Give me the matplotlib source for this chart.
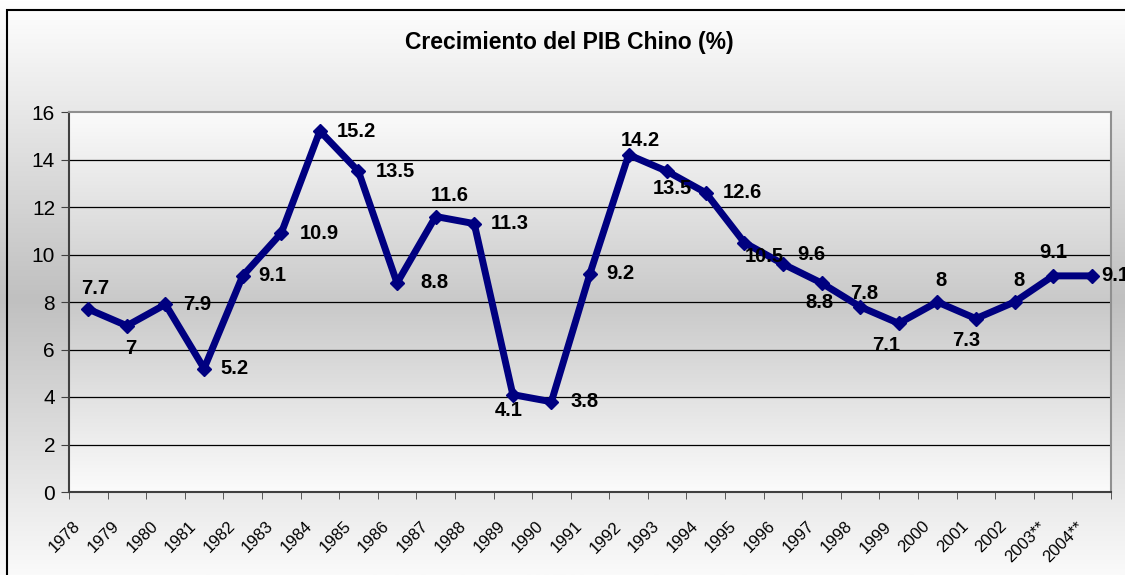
import numpy as np
import matplotlib.pyplot as plt
from matplotlib.colors import LinearSegmentedColormap
from matplotlib.patches import Rectangle
from matplotlib.transforms import ScaledTranslation

plt.rcParams['font.family'] = ['Liberation Sans', 'DejaVu Sans']

# data
years = ["1978", "1979", "1980", "1981", "1982", "1983", "1984", "1985", "1986",
         "1987", "1988", "1989", "1990", "1991", "1992", "1993", "1994", "1995",
         "1996", "1997", "1998", "1999", "2000", "2001", "2002", "2003**", "2004**"]
growth = [7.7, 7, 7.9, 5.2, 9.1, 10.9, 15.2, 13.5, 8.8, 11.6, 11.3, 4.1, 3.8, 9.2,
          14.2, 13.5, 12.6, 10.5, 9.6, 8.8, 7.8, 7.1, 8, 7.3, 8, 9.1, 9.1]
labels = ["7.7", "7", "7.9", "5.2", "9.1", "10.9", "15.2", "13.5", "8.8", "11.6",
          "11.3", "4.1", "3.8", "9.2", "14.2", "13.5", "12.6", "10.5", "9.6", "8.8",
          "7.8", "7.1", "8", "7.3", "8", "9.1", "9.1"]

# label offsets in pixels (dx, dy up)
offsets = [(7, 21), (4, -23), (32, 0), (30, 0), (30, 0), (38, 0), (37, 0), (37, 0),
           (37, 0), (14, 21), (36, 0), (-4, -16), (33, 0), (30, 0), (12, 14),
           (5, -17), (37, 0), (20, -14), (28, 9), (-2, -19), (4, 13), (-13, -22),
           (4, 21), (-10, -22), (4, 21), (0, 23), (24, 0)]

W, H = 1125, 575
fig = plt.figure(figsize=(W / 100, H / 100), dpi=100)

# chart area background gradient
bg = fig.add_axes([0, 0, 1, 1], zorder=-10)
cmap_bg = LinearSegmentedColormap.from_list(
    "bg", [(0, "#ffffff"), (0.52, "#c0c0c0"), (1, "#fafafa")])
grad = np.linspace(0, 1, 256).reshape(-1, 1)
bg.imshow(grad, cmap=cmap_bg, aspect="auto", extent=[0, 1, 0, 1], origin="upper")
bg.add_patch(Rectangle((7 / W, -0.1), 1.2, 1.1 - 10 / H, fill=False,
                       edgecolor="black", linewidth=1.5))
bg.set_xlim(0, 1)
bg.set_ylim(0, 1)
bg.axis("off")

fig.text(569 / W, 1 - 43 / H, "Crecimiento del PIB Chino (%)", ha="center",
         va="center", fontsize=16.5, fontweight="bold")

left, right, top, bottom = 69, 1111, 112, 492
ax = fig.add_axes([left / W, 1 - bottom / H, (right - left) / W, (bottom - top) / H])
n = len(years)
x = np.arange(n)

cmap_pa = LinearSegmentedColormap.from_list(
    "pa", [(0, "#fbfbfb"), (0.5, "#c9c9c9"), (1, "#fbfbfb")])
ax.imshow(grad, cmap=cmap_pa, aspect="auto", extent=[-0.5, n - 0.5, 0, 16],
          origin="upper", zorder=0)

for yv in range(2, 16, 2):
    ax.axhline(yv, color="black", linewidth=0.9, zorder=1)

ax.plot(x, growth, color="#000080", linewidth=5, marker="D", markersize=7,
        zorder=3, clip_on=False)

for i in range(n):
    dx, dy = offsets[i]
    ax.annotate(labels[i], (x[i], growth[i]), xytext=(dx, dy),
                textcoords="offset pixels", ha="center", va="center",
                fontsize=14.5, fontweight="bold", zorder=4, annotation_clip=False)

ax.set_xlim(-0.5, n - 0.5)
ax.set_ylim(0, 16)
ax.set_yticks(range(0, 17, 2))
ax.tick_params(axis="y", labelsize=15, length=6, color="#404040", pad=4)

ax.set_xticks(x)
ax.set_xticklabels(years, rotation=45, ha="right", va="center",
                   rotation_mode="anchor", fontsize=12)
ax.tick_params(axis="x", length=0, pad=23)
ax.set_xticks(np.arange(-0.5, n, 1), minor=True)
ax.tick_params(axis="x", which="minor", length=5, color="#404040")
shift = ScaledTranslation(-10 / 100, 0, fig.dpi_scale_trans)
for lab in ax.get_xticklabels():
    lab.set_transform(lab.get_transform() + shift)

ax.spines["left"].set_color("#404040")
ax.spines["bottom"].set_color("#404040")
ax.spines["left"].set_linewidth(1.5)
ax.spines["bottom"].set_linewidth(1.5)
ax.spines["top"].set_color("#909090")
ax.spines["right"].set_color("#909090")
ax.spines["top"].set_linewidth(1.5)
ax.spines["right"].set_linewidth(1.5)

fig.savefig("out.png", dpi=100)
